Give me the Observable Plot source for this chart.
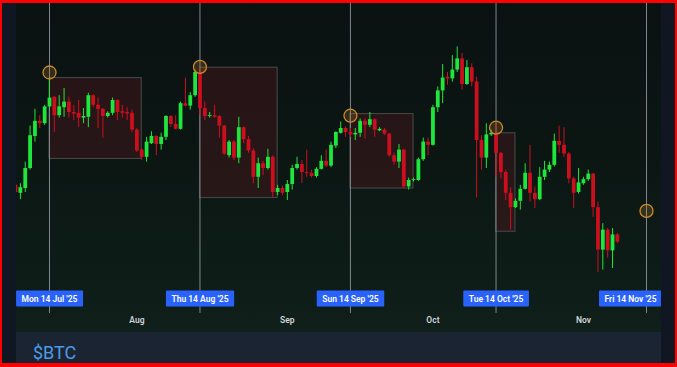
<!DOCTYPE html>
<html><head><meta charset="utf-8">
<script src="https://cdn.jsdelivr.net/npm/d3@7"></script>
<script src="https://cdn.jsdelivr.net/npm/@observablehq/plot@0.6"></script>
<style>
html,body{margin:0;padding:0;background:#ff0000;width:677px;height:367px;overflow:hidden;font-family:Roboto,"Noto Sans",sans-serif}
#frame{position:absolute;left:2px;top:3px;width:673px;height:360px;background:#101722}
#chart{position:absolute;left:14px;top:0;width:645px;height:329px;overflow:hidden}
#chart svg{display:block}
#footer{position:absolute;left:14px;top:329px;width:645px;height:31px;background:#1b2432}
#footer div{position:absolute;left:17px;top:12px;font-size:18px;line-height:18px;color:#4d9be6;white-space:nowrap}
</style></head>
<body>
<div id="frame"><div id="chart"></div><div id="footer"><div>$BTC</div></div></div>
<script>
// daily candles, Jul 7 2025 .. Nov 8 2025 (price in thousand USD)
const firstDay = "2025-07-07", lastDay = "2025-11-08";
const open = [109.4,108.4,109.0,111.5,115.5,117.4,117.1,119.2,120.4,118.1,119.1,119.8,118.5,118.4,117.8,117.9,120.6,119.4,118.9,118.0,118.4,120.0,118.6,118.5,118.4,
116.3,113.8,112.9,114.6,115.5,114.5,115.4,118.0,117.0,116.4,119.6,119.3,120.6,123.5,119.0,118.0,118.1,118.0,116.8,113.1,114.8,112.8,116.6,115.1,113.7,110.4,112.1,111.5,112.9,108.5,109.0,
108.5,109.5,111.5,112.0,111.0,110.9,110.5,111.4,112.4,111.8,114.3,115.9,116.5,116.0,115.7,115.9,117.4,116.9,117.6,116.2,116.3,115.8,113.1,112.3,113.8,109.2,110.0,110.0,112.6,114.8,
114.4,119.1,121.2,122.9,122.7,123.8,125.2,122.0,124.1,122.3,115.0,112.8,115.7,115.8,113.4,111.0,108.4,106.6,107.4,108.9,110.9,108.4,107.6,110.4,111.3,111.9,114.9,114.4,113.3,110.2,108.5,
109.6,110.1,110.8,106.6,101.3,103.8,101.2,103.2];
const high = [109.6,109.6,112.3,116.8,118.9,118.1,119.4,122.8,120.5,120.6,121.5,120.4,119.4,120.0,119.0,120.9,120.7,120.3,119.0,118.6,120.3,120.1,119.4,119.1,118.8,
116.5,114.0,115.4,116.1,115.6,115.9,118.1,118.1,118.1,119.8,122.8,121.0,123.8,124.1,119.8,118.5,119.4,118.1,116.9,115.0,115.0,117.9,116.7,115.5,114.0,112.8,112.4,113.9,113.1,109.4,109.3,
110.0,111.9,112.9,112.5,113.8,111.3,111.6,113.1,113.8,114.8,116.1,117.3,116.7,116.5,116.5,117.7,117.7,118.5,117.7,116.6,116.5,115.9,113.4,114.5,113.9,110.3,110.3,112.8,115.3,115.3,
119.4,121.7,124.5,123.5,125.6,126.7,125.9,125.0,124.6,122.9,115.6,117.1,116.3,117.1,113.5,111.3,109.1,107.7,109.4,112.1,114.4,109.2,111.6,112.4,112.3,115.8,116.8,116.6,113.5,110.4,111.5,
110.4,111.3,110.9,107.3,104.6,104.0,104.0,103.4];
const low = [108.3,107.6,108.5,111.3,114.8,116.5,116.9,119.0,116.0,117.8,117.9,117.8,117.5,116.6,117.1,116.6,119.1,116.5,115.3,117.8,118.1,117.5,117.8,117.5,116.0,
113.5,112.5,112.3,114.5,113.1,113.8,115.0,116.6,116.3,116.3,119.2,118.8,120.4,118.1,117.5,117.8,117.8,115.3,113.1,112.8,112.5,112.1,114.6,113.4,109.6,109.0,110.6,111.3,107.8,108.1,108.1,
107.5,108.8,111.3,109.6,110.4,110.3,110.3,111.3,111.6,111.6,114.0,115.8,115.4,115.4,115.0,115.4,115.2,116.6,115.4,116.1,115.6,112.9,111.9,111.5,109.0,108.8,109.8,109.9,112.4,113.1,
114.3,118.5,119.6,121.9,122.3,123.5,121.3,121.9,121.7,107.8,111.3,111.5,115.5,110.4,110.2,107.5,103.8,106.5,106.3,108.8,107.3,106.5,107.5,110.0,111.0,111.7,113.4,112.9,109.6,106.5,108.3,
109.4,109.9,105.4,98.5,98.8,100.3,99.0,102.1];
const close = [108.5,109.1,111.5,115.6,117.4,117.1,119.2,120.3,118.1,119.2,119.8,118.5,118.3,117.8,118.0,120.6,119.4,118.9,118.0,118.4,120.0,118.5,118.4,118.3,116.3,
113.7,112.9,114.8,115.5,114.5,115.4,118.0,117.0,116.4,119.6,119.3,120.6,123.5,119.0,118.0,118.1,117.9,116.8,113.3,114.8,112.8,116.6,115.1,113.7,110.4,112.1,111.5,112.9,108.5,109.0,108.4,
109.5,111.5,112.0,111.0,110.9,110.5,111.4,112.4,111.8,114.4,116.0,116.5,116.0,115.7,115.9,117.4,116.9,117.6,116.3,116.4,115.8,113.1,112.3,113.8,109.2,110.0,110.1,112.6,114.8,114.4,
119.1,121.2,122.8,122.7,123.8,125.2,122.0,124.1,122.3,115.0,112.8,115.7,115.9,113.4,111.0,108.4,106.6,107.4,108.9,110.9,108.4,107.6,110.4,111.3,111.9,114.9,114.4,113.3,110.2,108.4,109.7,
110.1,110.8,106.6,101.3,103.8,101.2,103.2,102.3];

// the 14th of each month: marker line, circle and date label
const markDates = ["2025-07-14","2025-08-14","2025-09-14","2025-10-14","2025-11-14"];
const markLabels = ["Mon 14 Jul '25","Thu 14 Aug '25","Sun 14 Sep '25","Tue 14 Oct '25","Fri 14 Nov '25"];
const markPrices = [123.5,124.2,118.1,116.6,106.2];

// shaded boxes
const boxStart = ["2025-07-14","2025-08-14","2025-09-14","2025-10-14"];
const boxEnd = ["2025-08-02","2025-08-30","2025-09-27","2025-10-18"];
const boxTop = [122.8,124.1,118.3,115.9];
const boxBottom = [112.7,107.8,109.0,103.6];

// month ticks
const monthDates = ["2025-08-01","2025-09-01","2025-10-01","2025-11-01"];
const monthLabels = ["Aug","Sep","Oct","Nov"];

const GREEN = "#1fe53c", RED = "#cc0f1f";
const days = d3.utcDay.range(new Date(firstDay), d3.utcDay.offset(new Date(lastDay), 1));
const candles = days.map((d, i) => ({date: d, open: open[i], high: high[i], low: low[i], close: close[i]}));
const up = candles.filter(c => c.close >= c.open);
const down = candles.filter(c => c.close < c.open);
const marks = markDates.map((d, i) => ({date: new Date(d), label: markLabels[i], price: markPrices[i]}));
const boxes = boxStart.map((d, i) => ({x1: new Date(d), x2: new Date(boxEnd[i]), y1: boxBottom[i], y2: boxTop[i]}));
const months = monthDates.map((d, i) => ({date: new Date(d), label: monthLabels[i]}));

const DAY = 864e5;
const chart = Plot.plot({
  width: 645, height: 329, margin: 0,
  x: {type: "utc", domain: [new Date(+new Date("2025-07-14") - 6.8 * DAY), new Date(+new Date("2025-11-14") + 3.09 * DAY)], axis: null},
  y: {domain: [91.0, 132.125], axis: null},
  style: {background: "linear-gradient(180deg,#0a1211 0%,#0b1613 45%,#0f1f19 100%)", fontFamily: "Roboto, 'Noto Sans', sans-serif", overflow: "hidden"},
  marks: [
    Plot.rect(boxes, {x1: "x1", x2: "x2", y1: "y1", y2: "y2", fill: "#6a1822", fillOpacity: 0.3, stroke: "#4a4c4c", strokeWidth: 1}),
    Plot.ruleX(marks, {x: "date", stroke: "#80868a", strokeWidth: 1, insetBottom: 19}),
    Plot.ruleX(up, {x: "date", y1: "low", y2: "high", stroke: GREEN, strokeWidth: 1}),
    Plot.ruleX(down, {x: "date", y1: "low", y2: "high", stroke: RED, strokeWidth: 1}),
    Plot.ruleX(up, {x: "date", y1: "open", y2: "close", stroke: GREEN, strokeWidth: 3.8}),
    Plot.ruleX(down, {x: "date", y1: "open", y2: "close", stroke: RED, strokeWidth: 3.8}),
    Plot.dot(marks, {x: "date", y: "price", r: 6.5, stroke: "#c8892c", strokeWidth: 1.3, fill: "#c8892c", fillOpacity: 0.22}),
    Plot.text(months, {x: "date", text: "label", frameAnchor: "bottom", dy: -10, fill: "#d1d4dc", fontSize: 8.5, fontWeight: 600}),
    Plot.text(marks.slice(0, 4), {x: "date", text: "label", frameAnchor: "bottom", dy: -31, fill: "#ffffff", fontSize: 8.5, fontWeight: 600}),
    Plot.text(marks.slice(4), {x: "date", text: "label", frameAnchor: "bottom", dy: -31, dx: -16, fill: "#ffffff", fontSize: 8.5, fontWeight: 600})
  ]
});
document.getElementById("chart").append(chart);
const SVGNS = "http://www.w3.org/2000/svg";
Array.from(chart.querySelectorAll("text"))
  .filter(t => markLabels.includes(t.textContent))
  .forEach(t => {
    const b = t.getBBox();
    const r = document.createElementNS(SVGNS, "rect");
    r.setAttribute("x", b.x - 5.5);
    r.setAttribute("y", b.y + b.height / 2 - 8);
    r.setAttribute("width", b.width + 11);
    r.setAttribute("height", 16);
    r.setAttribute("fill", "#2962ff");
    r.setAttribute("rx", 1);
    const tr = t.getAttribute("transform");
    if (tr) r.setAttribute("transform", tr);
    t.parentNode.insertBefore(r, t);
  });
</script>
</body></html>
